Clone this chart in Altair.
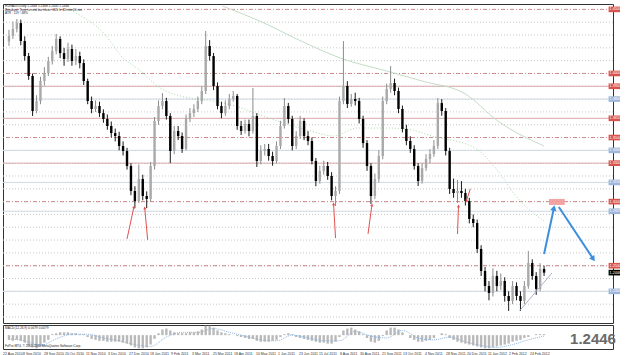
import altair as alt
import pandas as pd

# ---------------- data ----------------
close = [1.4292, 1.4347, 1.4393, 1.4253, 1.4136, 1.3980, 1.3707, 1.3785, 1.3941, 1.4003,
         1.4097, 1.4175, 1.4269, 1.4159, 1.4113, 1.4191, 1.4097, 1.4136, 1.4081, 1.3941,
         1.3785, 1.3723, 1.3746, 1.3691, 1.3645, 1.3590, 1.3535, 1.3512, 1.3434, 1.3395,
         1.3278, 1.3083, 1.3005, 1.3177, 1.3044, 1.3021, 1.3278, 1.3629, 1.3746, 1.3785,
         1.3668, 1.3395, 1.3551, 1.3512, 1.3411, 1.3645, 1.3691, 1.3723, 1.3785, 1.3863,
         1.4214, 1.4136, 1.3902, 1.3746, 1.3691, 1.3746, 1.3801, 1.3824, 1.3590, 1.3551,
         1.3606, 1.3551, 1.3668, 1.3317, 1.3395, 1.3411, 1.3356, 1.3317, 1.3434, 1.3590,
         1.3746, 1.3645, 1.3434, 1.3512, 1.3629, 1.3512, 1.3473, 1.3317, 1.3161, 1.3239,
         1.3278, 1.3200, 1.3044, 1.3083, 1.3785, 1.3902, 1.3762, 1.3801, 1.3785, 1.3645,
         1.3457, 1.3278, 1.3044, 1.3177, 1.3356, 1.3785, 1.3879, 1.3925, 1.3863, 1.3723,
         1.3567, 1.3473, 1.3411, 1.3278, 1.3161, 1.3262, 1.3333, 1.3372, 1.3434, 1.3769,
         1.3707, 1.3395, 1.3099, 1.3067, 1.3083, 1.3067, 1.3005, 1.2865, 1.2833, 1.2631,
         1.2459, 1.2342, 1.2287, 1.2420, 1.2342, 1.2381, 1.2264, 1.2225, 1.2342, 1.2264,
         1.2225, 1.2342, 1.2521, 1.2420, 1.2319, 1.2475, 1.2446]
high = [1.4340, 1.4405, 1.4425, 1.4420, 1.4290, 1.4160, 1.4000, 1.3830, 1.3975, 1.4050,
        1.4130, 1.4215, 1.4308, 1.4290, 1.4200, 1.4240, 1.4225, 1.4190, 1.4170, 1.4110,
        1.3960, 1.3820, 1.3790, 1.3780, 1.3720, 1.3680, 1.3625, 1.3570, 1.3545, 1.3470,
        1.3420, 1.3300, 1.3120, 1.3290, 1.3210, 1.3080, 1.3310, 1.3660, 1.3790, 1.3847,
        1.3810, 1.3690, 1.3590, 1.3590, 1.3540, 1.3680, 1.3730, 1.3760, 1.3820, 1.3900,
        1.4331, 1.4260, 1.4160, 1.3930, 1.3780, 1.3790, 1.3840, 1.3863, 1.3840, 1.3630,
        1.3640, 1.3640, 1.3886, 1.3690, 1.3440, 1.3450, 1.3450, 1.3390, 1.3470, 1.3630,
        1.3808, 1.3770, 1.3670, 1.3550, 1.3670, 1.3650, 1.3550, 1.3500, 1.3340, 1.3280,
        1.3320, 1.3310, 1.3230, 1.3120, 1.3820, 1.4253, 1.3940, 1.3840, 1.3850, 1.3810,
        1.3670, 1.3480, 1.3300, 1.3220, 1.3400, 1.3820, 1.3920, 1.4058, 1.3960, 1.3890,
        1.3750, 1.3600, 1.3510, 1.3440, 1.3300, 1.3300, 1.3370, 1.3410, 1.3480, 1.3808,
        1.3800, 1.3730, 1.3420, 1.3180, 1.3170, 1.3160, 1.3100, 1.3030, 1.2900, 1.2860,
        1.2660, 1.2490, 1.2380, 1.2480, 1.2460, 1.2440, 1.2410, 1.2300, 1.2380, 1.2370,
        1.2300, 1.2380, 1.2615, 1.2550, 1.2450, 1.2520, 1.2500]
low = [1.4215, 1.4270, 1.4320, 1.4220, 1.4100, 1.3950, 1.3668, 1.3690, 1.3760, 1.3905,
       1.3980, 1.4070, 1.4150, 1.4120, 1.4060, 1.4090, 1.4060, 1.4065, 1.4040, 1.3910,
       1.3760, 1.3690, 1.3700, 1.3660, 1.3615, 1.3560, 1.3500, 1.3470, 1.3400, 1.3360,
       1.3250, 1.3050, 1.2950, 1.2990, 1.3010, 1.2950, 1.3000, 1.3250, 1.3600, 1.3720,
       1.3640, 1.3301, 1.3370, 1.3480, 1.3380, 1.3400, 1.3620, 1.3660, 1.3700, 1.3760,
       1.3840, 1.4100, 1.3870, 1.3720, 1.3650, 1.3670, 1.3720, 1.3780, 1.3560, 1.3520,
       1.3530, 1.3510, 1.3530, 1.3270, 1.3290, 1.3360, 1.3320, 1.3280, 1.3300, 1.3410,
       1.3570, 1.3610, 1.3400, 1.3410, 1.3490, 1.3480, 1.3440, 1.3290, 1.3120, 1.3140,
       1.3210, 1.3170, 1.3010, 1.2966, 1.3060, 1.3760, 1.3730, 1.3740, 1.3750, 1.3610,
       1.3420, 1.3240, 1.2982, 1.3020, 1.3150, 1.3330, 1.3760, 1.3850, 1.3830, 1.3690,
       1.3540, 1.3440, 1.3380, 1.3250, 1.3122, 1.3140, 1.3240, 1.3300, 1.3350, 1.3410,
       1.3670, 1.3360, 1.3060, 1.3030, 1.2990, 1.3030, 1.2970, 1.2830, 1.2800, 1.2600,
       1.2420, 1.2300, 1.2230, 1.2260, 1.2300, 1.2310, 1.2220, 1.2147, 1.2200, 1.2230,
       1.2147, 1.2200, 1.2320, 1.2390, 1.2272, 1.2300, 1.2420]
first_open = 1.4250

macd = [-0.0090, -0.0108, -0.0090, -0.0108, -0.0144, -0.0198, -0.0234, -0.0252, -0.0216, -0.0144,
        -0.0090, 0.0018, 0.0036, 0.0054, 0.0054, 0.0054, 0.0036, 0.0036, 0.0018, 0.0018,
        -0.0036, -0.0072, -0.0090, -0.0108, -0.0108, -0.0126, -0.0126, -0.0126, -0.0126, -0.0144,
        -0.0162, -0.0198, -0.0234, -0.0252, -0.0252, -0.0234, -0.0180, -0.0072, 0.0036, 0.0108,
        0.0126, 0.0090, 0.0054, 0.0036, 0.0036, 0.0036, 0.0054, 0.0054, 0.0072, 0.0108,
        0.0180, 0.0180, 0.0144, 0.0090, 0.0054, 0.0036, 0.0018, 0.0000, -0.0018, -0.0036,
        -0.0054, -0.0072, -0.0072, -0.0108, -0.0126, -0.0126, -0.0126, -0.0108, -0.0090, -0.0036,
        0.0018, 0.0036, 0.0018, -0.0036, -0.0054, -0.0072, -0.0090, -0.0108, -0.0126, -0.0144,
        -0.0144, -0.0162, -0.0162, -0.0126, -0.0036, 0.0090, 0.0126, 0.0144, 0.0108, 0.0072,
        0.0018, -0.0054, -0.0126, -0.0144, -0.0108, -0.0018, 0.0090, 0.0144, 0.0144, 0.0108,
        0.0054, 0.0000, -0.0054, -0.0090, -0.0126, -0.0126, -0.0108, -0.0090, -0.0054, 0.0000,
        0.0036, 0.0018, -0.0054, -0.0090, -0.0126, -0.0144, -0.0162, -0.0180, -0.0198, -0.0216,
        -0.0234, -0.0252, -0.0252, -0.0234, -0.0216, -0.0198, -0.0180, -0.0162, -0.0126, -0.0108,
        -0.0090, -0.0054, -0.0036, 0.0000, 0.0018, 0.0018, 0.0018]
signal_bar = [0, 4, 8, 12, 16, 20, 24, 28, 32, 36, 40, 44, 48, 52, 56, 60, 64, 68, 72, 76,
              80, 84, 88, 92, 96, 100, 104, 108, 112, 116, 120, 124, 128, 132, 136]
signal_val = [-0.0072, -0.0108, -0.0198, -0.0072, 0.0018, 0.0018, -0.0054, -0.0108, -0.0180, -0.0216,
              -0.0036, 0.0054, 0.0054, 0.0126, 0.0054, -0.0018, -0.0090, -0.0108, 0.0000, -0.0054,
              -0.0108, -0.0108, 0.0072, -0.0018, -0.0054, 0.0090, -0.0054, -0.0090, -0.0036, -0.0126,
              -0.0198, -0.0234, -0.0180, -0.0090, -0.0018]

ma_fast_bar = [15, 24.25, 29.25, 32.5, 38.5, 46, 51.75, 57.5, 66, 76.75, 82.5, 88.5, 96, 101,
               107.5, 118.5, 124.25, 129.25, 136]
ma_fast = [1.4503, 1.4308, 1.4113, 1.4042, 1.3886, 1.3808, 1.3785, 1.3746, 1.3652, 1.3551,
           1.3512, 1.3574, 1.3574, 1.3567, 1.3512, 1.3418, 1.3239, 1.3028, 1.2849]
ma_slow_bar = [54.25, 63.75, 74.25, 84.25, 96, 105, 116, 124.25, 136]
ma_slow = [1.4526, 1.4409, 1.4253, 1.4120, 1.4019, 1.3941, 1.3840, 1.3629, 1.3434]

grid_levels = [1.21, 1.22, 1.23, 1.24, 1.25, 1.26, 1.27, 1.28, 1.29, 1.30, 1.31, 1.32,
               1.33, 1.34, 1.35, 1.36, 1.37, 1.38, 1.39, 1.40, 1.41, 1.42, 1.43, 1.44]
red_dashdot_levels = [1.45, 1.40, 1.35, 1.30, 1.25]
red_solid_levels = [1.39, 1.365, 1.33]
blue_solid_levels = [1.38, 1.34, 1.315, 1.2925, 1.23]
last_price = 1.2446

date_labels = ["22 Aug 2010", "8 Sep 2010", "28 Sep 2010", "20 Oct 2010", "11 Nov 2010",
               "3 Dec 2010", "27 Dec 2010", "18 Jan 2011", "9 Feb 2011", "3 Mar 2011",
               "25 Mar 2011", "18 Apr 2011", "10 May 2011", "1 Jun 2011", "23 Jun 2011",
               "15 Jul 2011", "8 Aug 2011", "30 Aug 2011", "21 Sep 2011", "13 Oct 2011",
               "4 Nov 2011", "28 Nov 2011", "20 Dec 2011", "11 Jan 2012", "2 Feb 2012",
               "24 Feb 2012"]
date_bars = [-0.25, 4.75, 10, 15.25, 20.5, 26, 31.25, 36.5, 41.75, 47, 52.25, 57.5, 63,
             68.5, 73.75, 78.75, 84, 89, 94.5, 99.75, 105.25, 110.5, 115.75, 121, 126.25, 131.5]

# annotation arrows (bar index / price)
red_x1 = [30.0, 35.25, 83.0, 91.25, 114.0, 117.25]
red_y1 = [1.2709, 1.2701, 1.2716, 1.2748, 1.2748, 1.3099]
red_x2 = [31.75, 34.5, 82.5, 92.25, 114.25, 116.25]
red_y2 = [1.2958, 1.2951, 1.2982, 1.2974, 1.2966, 1.3005]
red_head = [12, 355, 357, 8, 2, 198]
blue_x1 = [136.0, 139.75]
blue_y1 = [1.2592, 1.2958]
blue_x2 = [138.5, 148.5]
blue_y2 = [1.2950, 1.2553]
blue_head = [12, 146]
zone_x = [137.25, 141.25]
zone_y = [1.2974, 1.3021]
trend_x = [129.75, 138.0]
trend_y = [1.2147, 1.2443]

# ---------------- build ----------------
FONT = "Liberation Sans"
W = 610
XD = [-0.25, 152.25]
YD = [1.2053, 1.4542]
xs = alt.Scale(domain=XD, nice=False, zero=False)
ys = alt.Scale(domain=YD, nice=False, zero=False)

n = len(close)
candles = pd.DataFrame({
    "bar": list(range(n)),
    "open": [first_open] + close[:-1],
    "close": close, "high": high, "low": low,
})
candles["up"] = candles["close"] >= candles["open"]

X = alt.X("bar:Q", scale=xs, axis=None)


def lv(levels):
    return pd.DataFrame({"price": levels})


def hrule(levels, color, dash=None, width=1.0):
    kw = dict(color=color, strokeWidth=width)
    if dash:
        kw["strokeDash"] = dash
    return alt.Chart(lv(levels)).mark_rule(**kw).encode(
        y=alt.Y("price:Q", scale=ys, axis=None))


grid = hrule(grid_levels, "#c9c9c9", [1, 2])
red_dd = hrule(red_dashdot_levels, "#cf8a8a", [4, 2, 1, 2])
red_sol = hrule(red_solid_levels, "#d9a9a9")
blue_sol = hrule(blue_solid_levels, "#cfd8e4")

axis_main = alt.Axis(orient="right", values=grid_levels + [1.45], format=".4f",
                     labelFontSize=3.7, labelFont=FONT, labelColor="#444", ticks=False,
                     domain=False, grid=False, title=None, labelPadding=1)

wick = alt.Chart(candles).mark_rule(strokeWidth=1).encode(
    x=X,
    y=alt.Y("low:Q", scale=ys, axis=axis_main),
    y2="high:Q",
    color=alt.condition(alt.datum.up, alt.value("#8c8c8c"), alt.value("#1a1a1a")),
)
body = alt.Chart(candles).mark_bar(size=2.4).encode(
    x=X,
    y=alt.Y("open:Q", scale=ys, axis=None),
    y2="close:Q",
    color=alt.condition(alt.datum.up, alt.value("#a9a9a9"), alt.value("#000000")),
)

ma_f = alt.Chart(pd.DataFrame({"bar": ma_fast_bar, "v": ma_fast})).mark_line(
    color="#a9d9a9", strokeWidth=1, strokeDash=[1, 2], interpolate="monotone").encode(
    x=X, y=alt.Y("v:Q", scale=ys, axis=None))
ma_s = alt.Chart(pd.DataFrame({"bar": ma_slow_bar, "v": ma_slow})).mark_line(
    color="#c5dcc5", strokeWidth=1, interpolate="monotone").encode(
    x=X, y=alt.Y("v:Q", scale=ys, axis=None))

trend = alt.Chart(pd.DataFrame({"bar": [trend_x[0]], "b2": [trend_x[1]],
                                "p": [trend_y[0]], "p2": [trend_y[1]]})).mark_rule(
    color="#a7b3c8", strokeWidth=1).encode(
    x=X, x2="b2:Q", y=alt.Y("p:Q", scale=ys, axis=None), y2="p2:Q")

zone = alt.Chart(pd.DataFrame({"bar": [zone_x[0]], "b2": [zone_x[1]],
                               "p": [zone_y[0]], "p2": [zone_y[1]]})).mark_rect(
    color="#f29a9a", opacity=0.9).encode(
    x=X, x2="b2:Q", y=alt.Y("p:Q", scale=ys, axis=None), y2="p2:Q")

red_df = pd.DataFrame({"bar": red_x1, "b2": red_x2, "p": red_y1, "p2": red_y2, "a": red_head})
red_line = alt.Chart(red_df).mark_rule(color="#e0524f", strokeWidth=1).encode(
    x=X, x2="b2:Q", y=alt.Y("p:Q", scale=ys, axis=None), y2="p2:Q")
red_tip = alt.Chart(red_df).mark_point(shape="triangle-up", filled=True, size=10,
                                       color="#e0524f", opacity=1).encode(
    x=alt.X("b2:Q", scale=xs, axis=None), y=alt.Y("p2:Q", scale=ys, axis=None),
    angle=alt.Angle("a:Q", scale=None))

blue_df = pd.DataFrame({"bar": blue_x1, "b2": blue_x2, "p": blue_y1, "p2": blue_y2, "a": blue_head})
blue_line = alt.Chart(blue_df).mark_rule(color="#3b8fdc", strokeWidth=2).encode(
    x=X, x2="b2:Q", y=alt.Y("p:Q", scale=ys, axis=None), y2="p2:Q")
blue_tip = alt.Chart(blue_df).mark_point(shape="triangle-up", filled=True, size=40,
                                         color="#3b8fdc", opacity=1).encode(
    x=alt.X("b2:Q", scale=xs, axis=None), y=alt.Y("p2:Q", scale=ys, axis=None),
    angle=alt.Angle("a:Q", scale=None))

# highlighted price labels on the right axis
box_rows = ([{"p": v, "c": "#d9534f", "t": f"{v:.4f}"} for v in red_dashdot_levels + red_solid_levels]
            + [{"p": v, "c": "#9fb6dc", "t": f"{v:.4f}"} for v in blue_solid_levels]
            + [{"p": last_price, "c": "#000000", "t": f"{last_price:.4f}"}])
boxes = pd.DataFrame(box_rows)
boxes["lo"] = boxes["p"] - 0.0022
boxes["hi"] = boxes["p"] + 0.0022
boxes["bar"] = 152.4
boxes["b2"] = 155.3
box_rect = alt.Chart(boxes).mark_rect().encode(
    x=X, x2="b2:Q", y=alt.Y("lo:Q", scale=ys, axis=None), y2="hi:Q",
    color=alt.Color("c:N", scale=None))
box_text = alt.Chart(boxes).mark_text(fontSize=3.7, font=FONT, color="white", align="left",
                                      baseline="middle", dx=1).encode(
    x=X, y=alt.Y("p:Q", scale=ys, axis=None), text="t:N")

info = pd.DataFrame({"t": ["EURAUD,Daily  1.2468 1.2468 1.2430 1.2446",
                           "Breakout: Time to next bar close: 005 hr 45 min 40 sec",
                           "ATR : 119  !  48%"],
                     "yy": [2.2, 5.6, 9.0]})
info_text = alt.Chart(info).mark_text(fontSize=3.2, font=FONT, color="#222", align="left",
                                      baseline="middle").encode(
    x=alt.value(2), y=alt.Y("yy:Q", scale=None), text="t:N")

main = alt.layer(grid, blue_sol, red_sol, red_dd, ma_s, ma_f, wick, body, trend, zone,
                 red_line, red_tip, blue_line, blue_tip, box_rect, box_text, info_text
                 ).properties(width=W, height=319)

# ---------------- MACD panel ----------------
md = [-0.0265, 0.0194]
ms = alt.Scale(domain=md, nice=False, zero=False)
macd_df = pd.DataFrame({"bar": list(range(n)), "m": macd, "z": [0.0] * n})
macd_bars = alt.Chart(macd_df).mark_bar(size=2.4, color="#b9b9b9").encode(
    x=X, y=alt.Y("m:Q", scale=ms,
                 axis=alt.Axis(orient="right", values=[0.0194, 0.0, -0.0259], format=".4f",
                               labelFontSize=3.7, labelFont=FONT, labelColor="#444",
                               ticks=False, domain=False, grid=False, title=None,
                               labelPadding=1)),
    y2="z:Q")
sig_line = alt.Chart(pd.DataFrame({"bar": signal_bar, "s": signal_val})).mark_line(
    color="#8fb3dd", strokeWidth=1, strokeDash=[1, 1], interpolate="monotone").encode(
    x=X, y=alt.Y("s:Q", scale=ms, axis=None))
macd_txt = alt.Chart(pd.DataFrame({"t": ["MACD(12,26,9) 0.0079 0.0079",
                                         "FxPro MT4, \u00a9 2001-2011 MetaQuotes Software Corp."],
                                   "yy": [2.5, 21.0]})).mark_text(
    fontSize=3.2, font=FONT, color="#222", align="left", baseline="middle").encode(
    x=alt.value(2), y=alt.Y("yy:Q", scale=None), text="t:N")
big = alt.Chart(pd.DataFrame({"t": [f"{last_price:.4f}"]})).mark_text(
    fontSize=15, font=FONT, fontWeight="bold", color="#6a6a6a", align="center",
    baseline="middle").encode(x=alt.value(590), y=alt.value(14), text="t:N")

macd_panel = alt.layer(macd_bars, sig_line, macd_txt, big).properties(width=W, height=24)

# ---------------- date labels ----------------
dates = alt.Chart(pd.DataFrame({"bar": date_bars, "t": date_labels})).mark_text(
    fontSize=3.5, font=FONT, color="#333", align="left", baseline="middle").encode(
    x=X, y=alt.value(3), text="t:N").properties(width=W, height=6,
                                                 view=alt.ViewBackground(stroke="transparent"))

chart = alt.vconcat(main, macd_panel, dates, spacing=0).properties(
    padding={"left": 2, "top": 3, "right": 0, "bottom": 0},
    background="white",
).configure_view(stroke="#333", strokeWidth=1)

chart.save("out.html", embed_options={"renderer": "svg", "actions": False})
